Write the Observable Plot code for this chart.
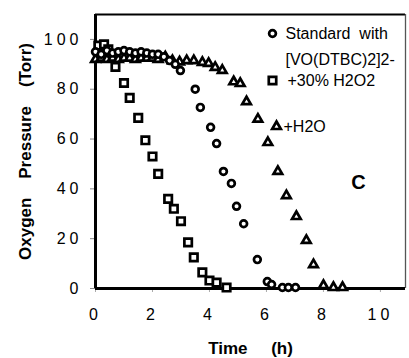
<!DOCTYPE html>
<html><head><meta charset="utf-8">
<script src="https://cdn.jsdelivr.net/npm/d3@7"></script>
<script src="https://cdn.jsdelivr.net/npm/@observablehq/plot@0.6"></script>
<style>
body{margin:0;background:#fff;}
svg text{white-space:pre;}
g[aria-label="y-axis tick label"] text, g[aria-label="x-axis tick label"] text{letter-spacing:4px;}
g[aria-label="y-title"] text{letter-spacing:2px;}
g[aria-label="x-title"] text{letter-spacing:1px;}
</style></head><body><div id="chart"></div>
<script>
// Standard with [VO(DTBC)2]2- (circles)
const stdTime = [0,0.2,0.4,0.6,0.8,1.0,1.2,1.4,1.6,1.8,2.0,2.2,2.4,2.6,2.8,2.98,3.5,3.68,4.04,4.25,4.49,4.77,4.95,5.2,5.68,6.03,6.18,6.56,6.77,7.02];
const stdPressure = [95,94,95.5,94.5,95,95.5,95,94.5,95,94.5,94,94,93,91.5,90,87.5,80,72.7,64.7,58.2,47,42.2,33,26,11.6,2.8,1.6,0.4,0.4,0.4];
// +30% H2O2 (squares)
const h2o2Time = [0.1,0.3,0.45,0.7,1.0,1.2,1.5,1.75,2.0,2.2,2.55,2.75,3.0,3.25,3.45,3.75,4.0,4.25,4.6];
const h2o2Pressure = [97.5,98,96,89,82.5,76.5,68.5,59.5,53,46,36,32,27,18.5,12.5,6.5,3.2,2.4,0.4];
// +H2O (triangles)
const waterTime = [0,0.2,0.4,0.6,0.8,1.0,1.2,1.4,1.6,1.8,2.0,2.2,2.45,2.7,2.95,3.2,3.45,3.75,3.97,4.2,4.45,4.85,5.08,5.3,5.7,6.05,6.4,6.7,7.05,7.4,7.65,8.0,8.35,8.67];
const waterPressure = [92,92.5,92,92.5,92,92.5,92.5,92,92.5,92.5,92.5,92,93,91.5,91,91.5,91.5,90.8,90.4,88.8,87.6,83,82.3,75,68,58.6,47,37.3,28.9,19.3,9.6,1.2,0.4,0.4];

const xTicks = [0,2,4,6,8,10];
const yTicks = [0,20,40,60,80,100];
const legendLabels = ["Standard  with", "[VO(DTBC)2]2-", "+30% H2O2", "+H2O"];
const panelLabel = "C";
const xTitle = "Time     (h)";
const yTitle = "Oxygen    Pressure    (Torr)";

const std = stdTime.map((t,i)=>({t, p: stdPressure[i]}));
const h2o2 = h2o2Time.map((t,i)=>({t, p: h2o2Pressure[i]}));
const water = waterTime.map((t,i)=>({t, p: waterPressure[i]}));

const dotStyle = {stroke:"#000", fill:"#fff", strokeWidth:2.7};
const circ = {symbol:"circle", r:3.4, ...dotStyle};
const sq = {symbol:"square", r:4.2, ...dotStyle};
const tri = {symbol:"triangle", r:3.2, ...dotStyle};
const xMax = 10.88;

const chart = Plot.plot({
  width:409, height:358,
  marginLeft:95, marginRight:4, marginTop:14, marginBottom:70,
  style:{fontFamily:"'Liberation Sans', Arial, sans-serif", background:"#fff", color:"#000"},
  x:{domain:[0,xMax]},
  y:{domain:[0,110]},
  marks:[
    Plot.axisY({ticks:yTicks, tickSize:5, tickPadding:8, fontSize:16, stroke:"#888", label:null}),
    Plot.axisX({ticks:xTicks, tickSize:4, tickPadding:16, fontSize:16, stroke:"#aaa", label:null}),
    Plot.ruleY([110], {strokeWidth:2}),
    Plot.ruleX([xMax], {strokeWidth:1.3, stroke:"#555"}),
    Plot.ruleX([0], {strokeWidth:3}),
    Plot.ruleY([0], {strokeWidth:3}),
    Plot.dot(h2o2, {x:"t", y:"p", ...sq}),
    Plot.dot(water, {x:"t", y:"p", ...tri}),
    Plot.dot(std, {x:"t", y:"p", ...circ}),
    // legend
    Plot.dot([0], {frameAnchor:"top-right", dx:-133, dy:19, ...circ}),
    Plot.text([legendLabels[0]], {frameAnchor:"top-right", dx:-120, dy:19, textAnchor:"start", lineAnchor:"middle", fontSize:16}),
    Plot.text([legendLabels[1]], {frameAnchor:"top-right", dx:-120, dy:45, textAnchor:"start", lineAnchor:"middle", fontSize:16}),
    Plot.dot([0], {frameAnchor:"top-right", dx:-133, dy:66, ...sq}),
    Plot.text([legendLabels[2]], {frameAnchor:"top-right", dx:-118, dy:66, textAnchor:"start", lineAnchor:"middle", fontSize:16}),
    Plot.dot([0], {frameAnchor:"top-right", dx:-129, dy:112, ...tri}),
    Plot.text([legendLabels[3]], {frameAnchor:"top-right", dx:-122, dy:112, textAnchor:"start", lineAnchor:"middle", fontSize:16}),
    Plot.text([panelLabel], {frameAnchor:"top-right", dx:-47, dy:168, textAnchor:"middle", lineAnchor:"middle", fontSize:20, fontWeight:"bold"}),
    // axis titles
    Plot.text([xTitle], {ariaLabel:"x-title", frameAnchor:"bottom", dy:60, textAnchor:"middle", lineAnchor:"middle", fontSize:17, fontWeight:"bold"}),
    Plot.text([yTitle], {ariaLabel:"y-title", frameAnchor:"left", dx:-70, rotate:-90, textAnchor:"middle", lineAnchor:"middle", fontSize:17, fontWeight:"bold"})
  ]
});
document.getElementById("chart").appendChild(chart);
</script></body></html>
